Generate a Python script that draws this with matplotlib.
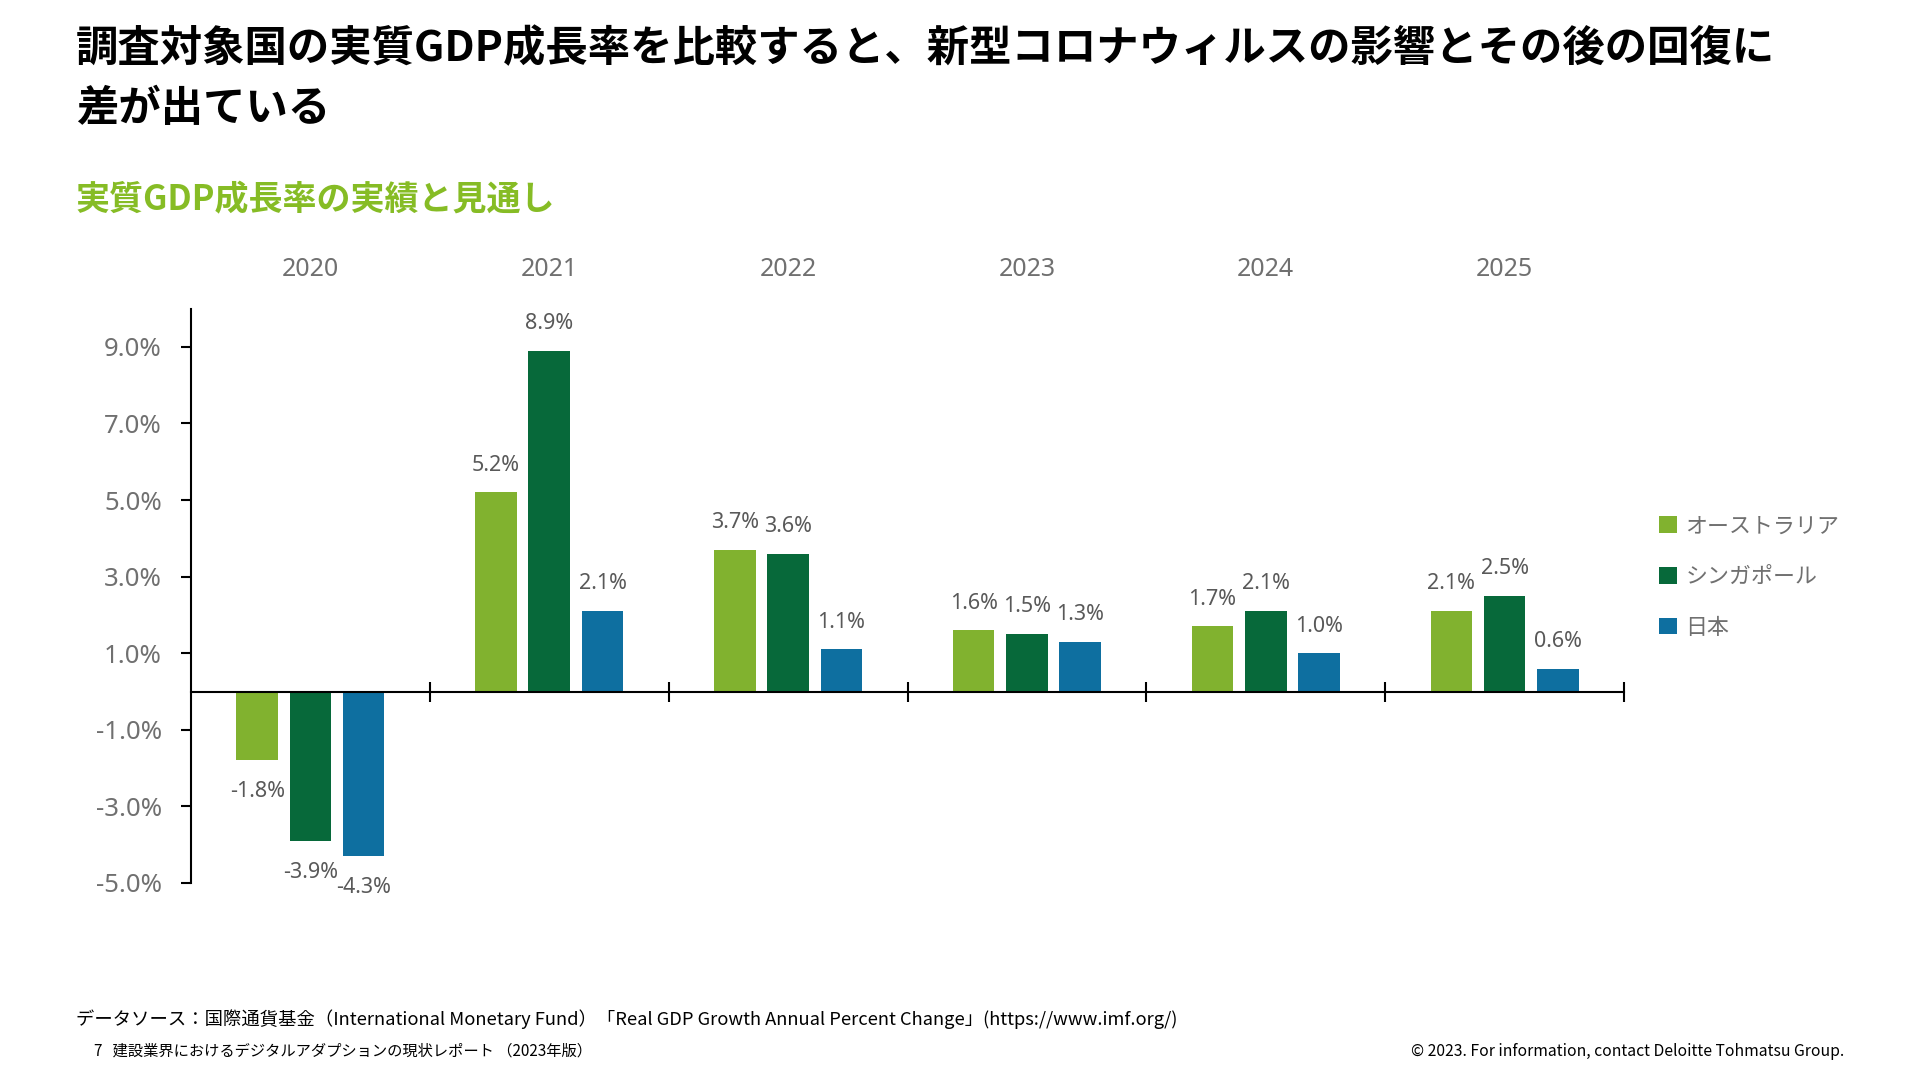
import matplotlib
matplotlib.use("Agg")
import matplotlib.pyplot as plt
import numpy as np
from matplotlib.patches import Patch

plt.rcParams['font.family'] = ['Noto Sans CJK JP', 'DejaVu Sans']

years = ["2020", "2021", "2022", "2023", "2024", "2025"]
series_names = ["オーストラリア", "シンガポール", "日本"]
australia = [-1.8, 5.2, 3.7, 1.6, 1.7, 2.1]
singapore = [-3.9, 8.9, 3.6, 1.5, 2.1, 2.5]
japan = [-4.3, 2.1, 1.1, 1.3, 1.0, 0.6]
yticks = [-5, -3, -1, 1, 3, 5, 7, 9]

colors = ["#81B22F", "#07693A", "#0E6FA0"]
title = "調査対象国の実質GDP成長率を比較すると、新型コロナウィルスの影響とその後の回復に\n差が出ている"
subtitle = "実質GDP成長率の実績と見通し"
source = "データソース：国際通貨基金（International Monetary Fund）「Real GDP Growth Annual Percent Change」(https://www.imf.org/)"
page = "7   建設業界におけるデジタルアダプションの現状レポート （2023年版）"
copyright_txt = "© 2023. For information, contact Deloitte Tohmatsu Group."

W, H = 1920, 1079
fig = plt.figure(figsize=(W / 100, H / 100), dpi=100)
fig.patch.set_facecolor("white")

left, right = 191 / W, 1624 / W
bottom, top = 1 - 883 / H, 1 - 308.6 / H
ax = fig.add_axes([left, bottom, right - left, top - bottom])

x = np.arange(len(years)) + 0.5
bw = 0.174
step = 0.223
num_font = ['Noto Sans', 'DejaVu Sans']
for i, (vals, c, name) in enumerate(zip([australia, singapore, japan], colors, series_names)):
    xs = x + (i - 1) * step
    ax.bar(xs, vals, width=bw, color=c, label=name, zorder=2)
    for xi, v in zip(xs, vals):
        off = 12 if v >= 0 else -15
        ax.annotate(f"{v:.1f}%", (xi, v), xytext=(0, off), textcoords="offset points",
                    ha="center", va="bottom" if v >= 0 else "top",
                    fontsize=15.5, color="#595959", family=num_font)

ax.set_xlim(0, 6)
ax.set_ylim(-5, 10)
ax.spines['top'].set_visible(False)
ax.spines['right'].set_visible(False)
ax.spines['bottom'].set_position(('data', 0))
ax.spines['bottom'].set_linewidth(1.5)
ax.spines['left'].set_linewidth(1.5)
ax.spines['left'].set_bounds(-5, 10)

ax.set_xticks([1, 2, 3, 4, 5, 6])
ax.set_xticklabels([])
ax.tick_params(axis='x', direction='inout', length=14, width=1.5, color="black")
ax.set_yticks(yticks)
ax.set_yticklabels([f"{t:.1f}%" for t in yticks], family=num_font)
ax.tick_params(axis='y', direction='out', length=7, width=1.5, pad=14,
               labelsize=18.5, labelcolor="#707070", color="black")

for xi, yr in zip(x, years):
    ax.text(xi, 1 + 39 / (883 - 308.6), yr, transform=ax.get_xaxis_transform(),
            ha="center", va="center", fontsize=18, color="#707070", family=num_font)

handles = [Patch(facecolor=c, edgecolor="none") for c in colors]
leg = fig.legend(handles, series_names, loc="center left",
                 bbox_to_anchor=(1659 / W, 1 - 577 / H), frameon=False,
                 fontsize=15.8, labelcolor="#707070", handlelength=0.8, handleheight=0.8,
                 handletextpad=0.4, labelspacing=1.3, borderaxespad=0, borderpad=0)

fig.text(76 / W, 1 - 28 / H, title, ha="left", va="top", fontsize=30.5,
         fontweight="bold", color="black", linespacing=1.55)
fig.text(76 / W, 1 - 200 / H, subtitle, ha="left", va="center", fontsize=24.5,
         fontweight="bold", color="#86BC25")
fig.text(76 / W, 1 - 1019 / H, source, ha="left", va="center", fontsize=13.2, color="black")
fig.text(94 / W, 1 - 1051 / H, page, ha="left", va="center", fontsize=11, color="black")
fig.text(1844 / W, 1 - 1051 / H, copyright_txt, ha="right", va="center", fontsize=11.3, color="black")

fig.savefig("out.png", dpi=100, facecolor="white")
